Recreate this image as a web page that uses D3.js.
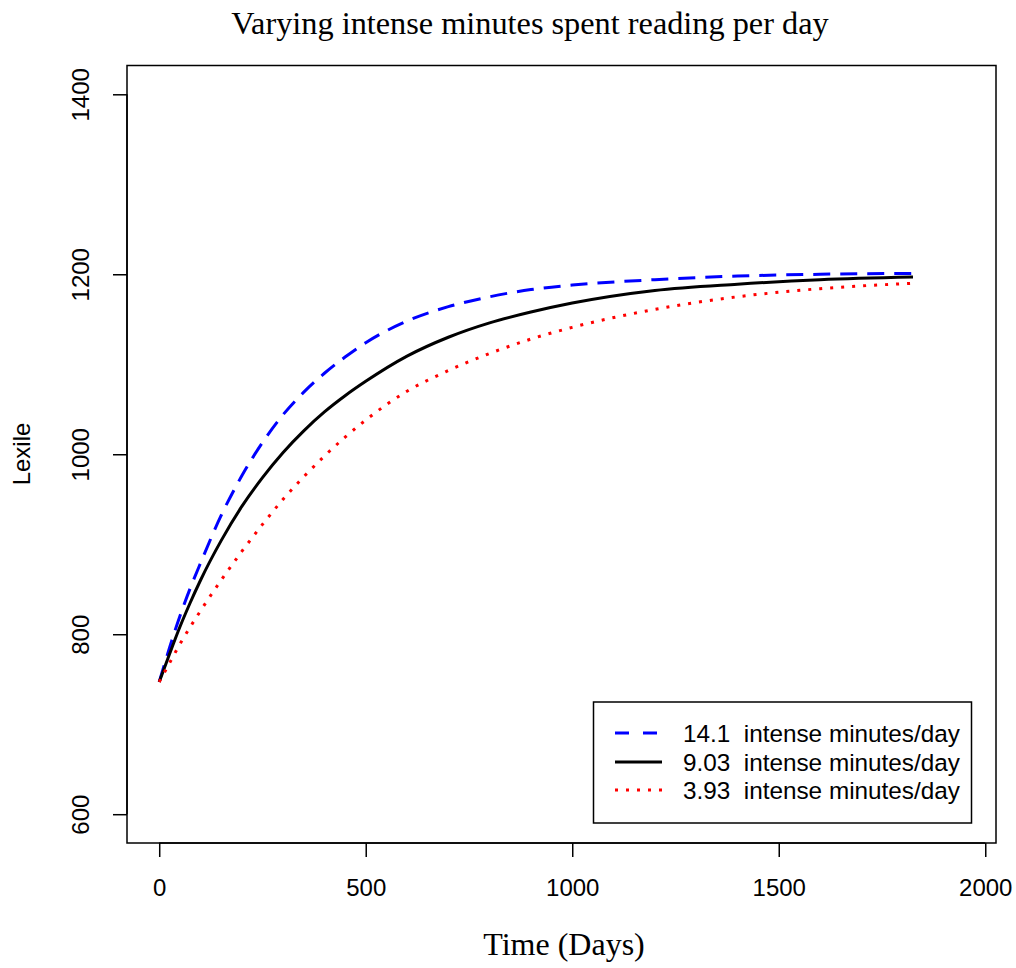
<!DOCTYPE html>
<html>
<head>
<meta charset="utf-8">
<script src="https://cdn.jsdelivr.net/npm/d3@7/dist/d3.min.js"></script>
<style>
  html, body { margin: 0; padding: 0; background: #fff; }
  svg { display: block; }
  .sans { font-family: "Liberation Sans", Arial, sans-serif; }
  .serif { font-family: "Liberation Serif", "Times New Roman", serif; }
</style>
</head>
<body>
<svg id="chart" width="1016" height="968"></svg>
<script>
// Lexile trajectories over five years for three daily reading intensities
const days = [0, 25, 50, 75, 100, 150, 200, 250, 300, 350, 400, 450, 500, 600, 700, 800, 900, 1000, 1200, 1400, 1600, 1825];

const lexileHigh = [747, 785, 820, 851, 879, 932, 976, 1013, 1044, 1069, 1090, 1108, 1124, 1148, 1164, 1175, 1183, 1188, 1194, 1198, 1200, 1201];
const lexileMid  = [747, 778, 808, 835, 860, 904, 942, 974, 1002, 1026, 1047, 1065, 1081, 1109, 1130, 1146, 1158, 1168, 1182, 1189, 1194, 1197];
const lexileLow  = [747, 768, 789, 808, 826, 860, 892, 922, 950, 975, 998, 1019, 1038, 1070, 1093, 1112, 1128, 1141, 1161, 1175, 1184, 1190];

const seriesLabels = ["14.1  intense minutes/day", "9.03  intense minutes/day", "3.93  intense minutes/day"];

const xTicks = [0, 500, 1000, 1500, 2000];
const yTicks = [600, 800, 1000, 1200, 1400];

const titleText = "Varying intense minutes spent reading per day";
const xTitle = "Time (Days)";
const yTitle = "Lexile";

const svg = d3.select("#chart");

const plot = { left: 127, right: 996, top: 65.5, bottom: 843 };

const x = d3.scaleLinear().domain([-78, 2026]).range([plot.left, plot.right]);
const y = d3.scaleLinear().domain([568, 1432]).range([plot.bottom, plot.top]);

const styles = [
  { values: lexileHigh, color: "#0000ff", dash: "17,10", legendDash: "14,14" },
  { values: lexileMid,  color: "#000000", dash: null,    legendDash: null },
  { values: lexileLow,  color: "#ff0000", dash: "3,8",   legendDash: "3,8" }
];

const line = d3.line()
  .x(d => x(d[0]))
  .y(d => y(d[1]))
  .curve(d3.curveMonotoneX);

// Curves
styles.forEach(s => {
  svg.append("path")
    .datum(days.map((t, i) => [t, s.values[i]]))
    .attr("d", line)
    .attr("fill", "none")
    .attr("stroke", s.color)
    .attr("stroke-width", 3)
    .attr("stroke-dasharray", s.dash)
    .attr("stroke-linecap", "butt");
});

// Plot frame
svg.append("rect")
  .attr("x", plot.left).attr("y", plot.top)
  .attr("width", plot.right - plot.left).attr("height", plot.bottom - plot.top)
  .attr("fill", "none").attr("stroke", "#000").attr("stroke-width", 1.5);

// X axis
const xAxis = svg.append("g")
  .attr("class", "sans")
  .attr("transform", `translate(0,${plot.bottom})`)
  .call(d3.axisBottom(x).tickValues(xTicks).tickSize(14).tickPadding(22).tickFormat(d3.format("d")));
xAxis.select(".domain").remove();
xAxis.append("line")
  .attr("x1", x(xTicks[0])).attr("x2", x(xTicks[xTicks.length - 1]))
  .attr("stroke", "#000").attr("stroke-width", 1.5);
xAxis.selectAll(".tick line").attr("stroke", "#000").attr("stroke-width", 1.5);
xAxis.selectAll(".tick text").attr("font-size", 24).attr("fill", "#000")
  .attr("font-family", "Liberation Sans, Arial, sans-serif");

// Y axis with labels parallel to the axis
const yAxis = svg.append("g")
  .attr("class", "sans")
  .attr("transform", `translate(${plot.left},0)`)
  .call(d3.axisLeft(y).tickValues(yTicks).tickSize(14).tickFormat(d3.format("d")));
yAxis.select(".domain").remove();
yAxis.append("line")
  .attr("y1", y(yTicks[0])).attr("y2", y(yTicks[yTicks.length - 1]))
  .attr("stroke", "#000").attr("stroke-width", 1.5);
yAxis.selectAll(".tick line").attr("stroke", "#000").attr("stroke-width", 1.5);
yAxis.selectAll(".tick text")
  .attr("x", null).attr("dy", "0.35em")
  .attr("text-anchor", "middle")
  .attr("transform", "translate(-46,0) rotate(-90)")
  .attr("font-size", 24).attr("fill", "#000")
  .attr("font-family", "Liberation Sans, Arial, sans-serif");

// Titles
svg.append("text")
  .attr("class", "serif")
  .attr("x", 530).attr("y", 34)
  .attr("text-anchor", "middle")
  .attr("font-size", 32.3)
  .text(titleText);

svg.append("text")
  .attr("class", "serif")
  .attr("x", 564).attr("y", 955)
  .attr("text-anchor", "middle")
  .attr("font-size", 32)
  .text(xTitle);

svg.append("text")
  .attr("class", "sans")
  .attr("transform", "translate(22,454) rotate(-90)")
  .attr("dy", "0.35em")
  .attr("text-anchor", "middle")
  .attr("font-size", 24)
  .text(yTitle);

// Legend
const legend = svg.append("g").attr("class", "sans");
legend.append("rect")
  .attr("x", 593.5).attr("y", 702)
  .attr("width", 378).attr("height", 121)
  .attr("fill", "#fff").attr("stroke", "#000").attr("stroke-width", 1.5);

const rowY = [733, 762, 790];
styles.forEach((s, i) => {
  legend.append("line")
    .attr("x1", 615).attr("x2", 662)
    .attr("y1", rowY[i]).attr("y2", rowY[i])
    .attr("stroke", s.color).attr("stroke-width", 3)
    .attr("stroke-dasharray", s.legendDash);
  legend.append("text")
    .attr("x", 683).attr("y", rowY[i])
    .attr("dy", "0.35em")
    .attr("font-size", 24.3)
    .style("white-space", "pre")
    .text(seriesLabels[i]);
});
</script>
</body>
</html>
